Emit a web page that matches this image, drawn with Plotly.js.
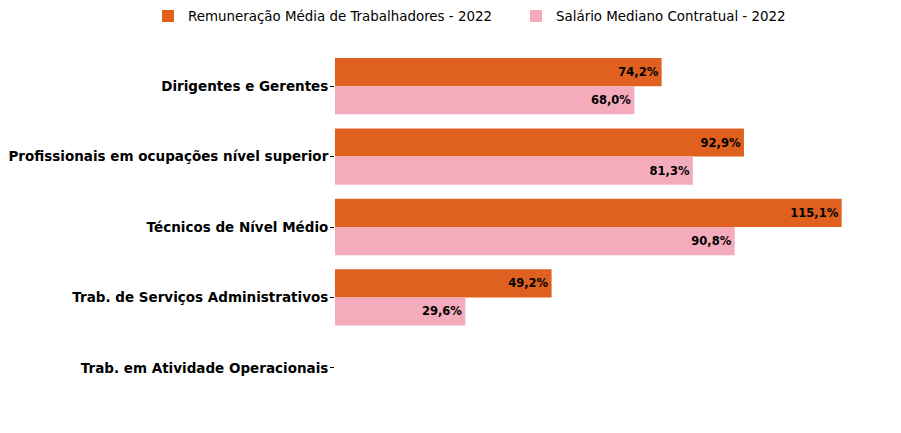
<!DOCTYPE html>
<html>
<head>
<meta charset="utf-8">
<script src="https://cdn.plot.ly/plotly-3.0.1.min.js"></script>
<style>html,body{margin:0;padding:0;background:#fff;}#chart{width:901px;height:433px;}</style>
</head>
<body>
<div id="chart"></div>
<script>
const categories = [
  "Dirigentes e Gerentes",
  "Profissionais em ocupações nível superior",
  "Técnicos de Nível Médio",
  "Trab. de Serviços Administrativos",
  "Trab. em Atividade Operacionais"
];
const seriesNames = [
  "Remuneração Média de Trabalhadores - 2022",
  "Salário Mediano Contratual - 2022"
];
const remuneracao = [74.2, 92.9, 115.1, 49.2, null];
const salario = [68.0, 81.3, 90.8, 29.6, null];
const colors = ["#E06020", "#F4ABBB"];

function fmt(arr){ return arr.map(v => v === null ? "" : v.toFixed(1).replace(".", ",") + "%"); }

const common = {
  type: "bar",
  orientation: "h",
  textposition: "inside",
  insidetextanchor: "end",
  textangle: 0,
  constraintext: "none",
  cliponaxis: false,
  textfont: {family: "DejaVu Sans", size: 11.5, color: "#000", weight: "bold"},
  hoverinfo: "skip"
};
const data = [
  Object.assign({}, common, {name: seriesNames[0], y: categories, x: remuneracao, text: fmt(remuneracao), marker: {color: colors[0]}, legend: "legend"}),
  Object.assign({}, common, {name: seriesNames[1], y: categories, x: salario, text: fmt(salario), marker: {color: colors[1]}, legend: "legend2"})
];
const legendBase = {orientation: "h", xref: "container", yref: "container", xanchor: "left", y: 0.998, yanchor: "top",
  font: {family: "DejaVu Sans", size: 13.4, color: "#000"}, itemwidth: 30, bgcolor: "rgba(0,0,0,0)"};
const layout = {
  width: 901, height: 433,
  margin: {l: 335, r: 34, t: 51, b: 30},
  paper_bgcolor: "#fff", plot_bgcolor: "#fff",
  barmode: "group", bargap: 0.2, bargroupgap: 0,
  font: {family: "DejaVu Sans", color: "#000"},
  showlegend: true,
  legend: Object.assign({}, legendBase, {x: 148/901}),
  legend2: Object.assign({}, legendBase, {x: 516/901}),
  xaxis: {visible: false, range: [0, 120.855], showgrid: false, zeroline: false},
  yaxis: {autorange: "reversed", type: "category", showgrid: false, zeroline: false, showline: false,
          ticks: "outside", ticklen: 4, tickcolor: "#000", tickwidth: 1, ticklabelstandoff: -1,
          tickfont: {family: "DejaVu Sans", size: 13.5, color: "#000", weight: "bold"}}
};
Plotly.newPlot("chart", data, layout, {displayModeBar: false, staticPlot: true});
</script>
</body>
</html>
